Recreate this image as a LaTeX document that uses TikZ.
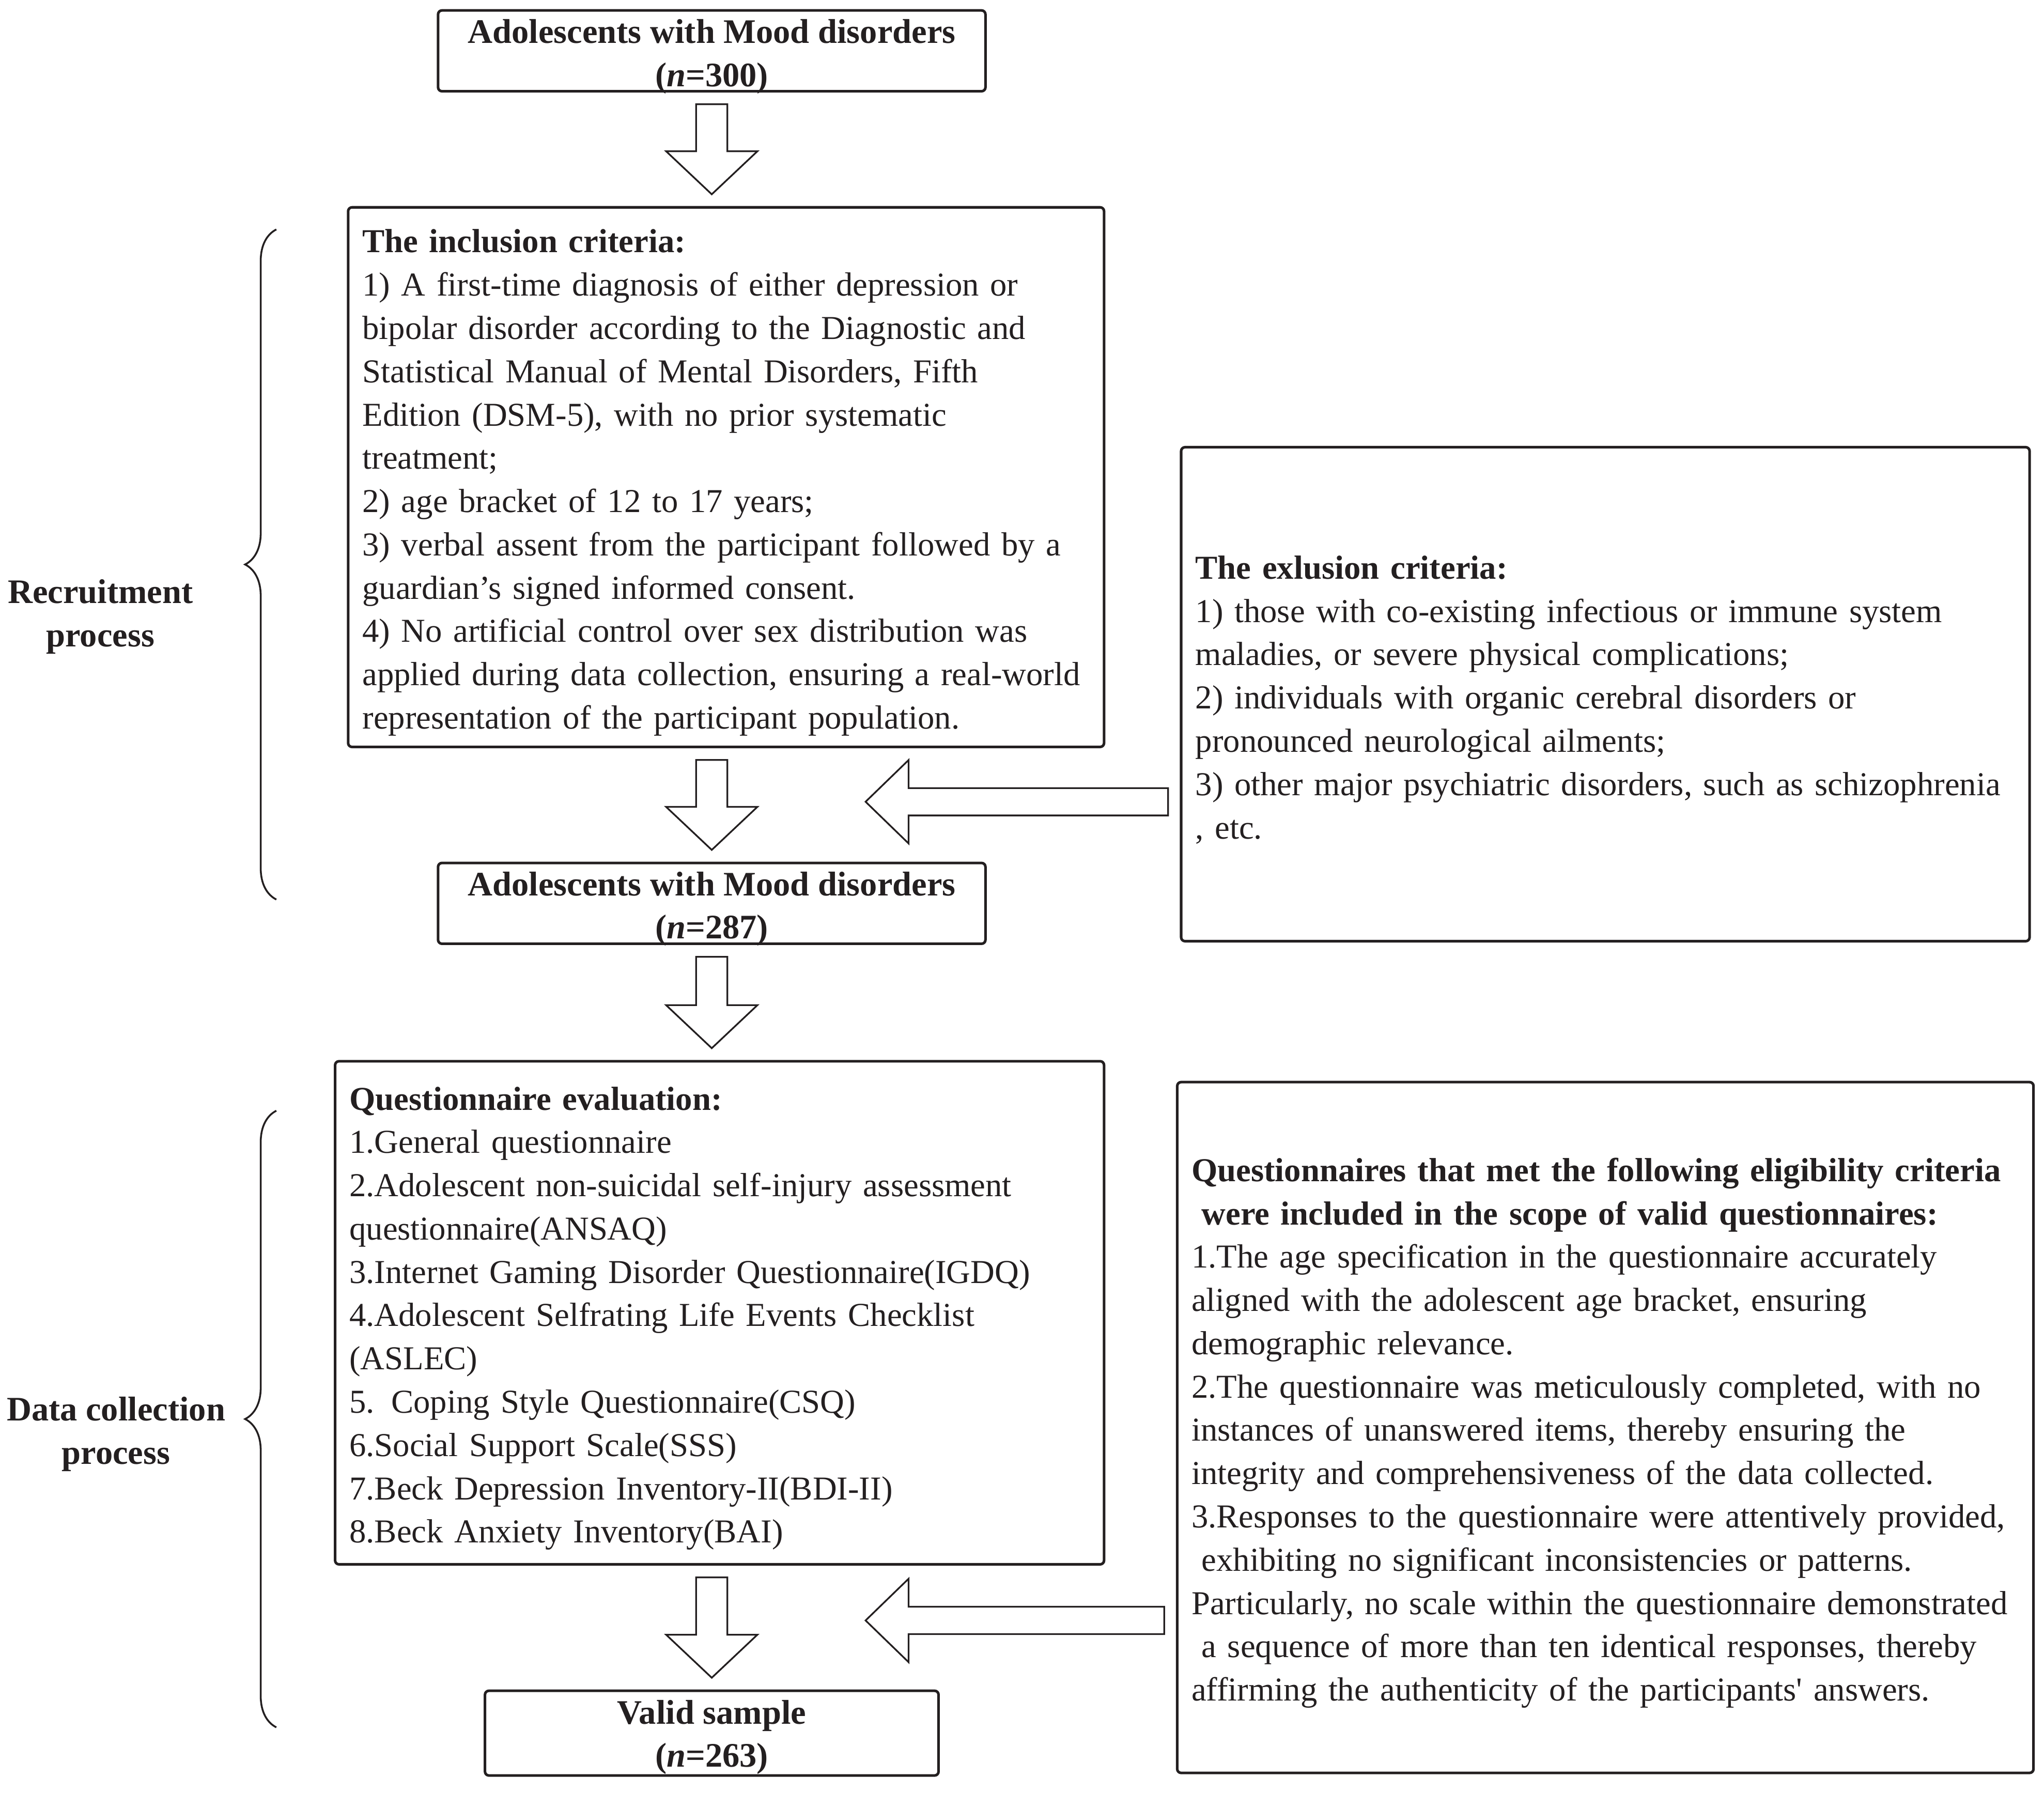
\documentclass[tikz,border=0pt]{standalone}
\usepackage{fontspec}
\setmainfont{Liberation Serif}
\usepackage{xcolor}
\usepackage{tikz}
\usetikzlibrary{calc,positioning,decorations.pathreplacing}
\definecolor{ink}{RGB}{35,31,32}
\newcommand{\nohyph}{\hyphenpenalty=10000\relax\exhyphenpenalty=10000\relax}
\tikzset{
  box/.style={draw=ink, line width=0.04cm, rounded corners=0.06cm, text=ink, inner xsep=0.22cm, inner ysep=0pt, font=\fontsize{15pt}{18.9pt}\selectfont},
  textbox/.style 2 args={box, align=left, text width=#1, minimum height=#2, font=\fontsize{14.6pt}{18.9pt}\selectfont\nohyph},
  countbox/.style 2 args={box, align=center, inner ysep=-3pt, minimum width=#1, minimum height=#2, font=\fontsize{15pt}{18.9pt}\selectfont\bfseries},
  blockarrow/.style={draw=ink, line width=0.026cm, line join=miter, fill=white},
  brace/.style={draw=ink, line width=0.028cm, decorate, decoration={brace, amplitude=0.48cm}},
  side/.style={text=ink, align=center, font=\fontsize{15pt}{18.9pt}\selectfont\bfseries}
}
\newcommand{\downblock}[2]{%
  \draw[blockarrow] ($(#1.south -| axis)+(-12,9)$) -- ($(#1.south -| axis)+(12,9)$) -- ($(#2.north -| axis)+(12,-42)$) -- ($(#2.north -| axis)+(35,-42)$) -- ($(#2.north -| axis)+(0,-9)$) -- ($(#2.north -| axis)+(-35,-42)$) -- ($(#2.north -| axis)+(-12,-42)$) -- cycle;}
\newcommand{\leftblock}[2]{%
  \draw[blockarrow] ($(#1.west |- #2)+(-9,-10.5)$) -- ($(#2)+(33,-10.5)$) -- ($(#2)+(33,-32)$) -- (#2) -- ($(#2)+(33,32)$) -- ($(#2)+(33,10.5)$) -- ($(#1.west |- #2)+(-9,10.5)$) -- cycle;}

\begin{document}
\begin{tikzpicture}[x=0.02cm, y=-0.02cm]
\fill[white] (0,0) rectangle (1568,1375);
\useasboundingbox (0,0) rectangle (1568,1375);
\coordinate (axis) at (546,0);

\node[countbox={8.4cm}{1.24cm}] (start) at (546,39) {\rule{0pt}{15.3pt}Adolescents with Mood disorders\\(\textit{n}=300)};
\node[textbox={11.16cm}{8.28cm}] (incl) at (557,366) {\rule{0pt}{15pt}\textbf{The inclusion criteria:}\\
1) A first-time diagnosis of either depression or\\
bipolar disorder according to the Diagnostic and\\
Statistical Manual of Mental Disorders, Fifth\\
Edition (DSM-5), with no prior systematic\\
treatment;\\
2) age bracket of 12 to 17 years;\\
3) verbal assent from the participant followed by a\\
guardian’s signed informed consent.\\
4) No artificial control over sex distribution was\\
applied during data collection, ensuring a real-world\\
representation of the participant population.};
\node[countbox={8.4cm}{1.24cm}, below=1.74cm of incl, xshift=-0.22cm] (mood) {\rule{0pt}{15.3pt}Adolescents with Mood disorders\\(\textit{n}=287)};
\node[textbox={12.58cm}{7.58cm}] (excl) at (1231.5,532.5) {\rule{0pt}{15pt}\textbf{The exlusion criteria:}\\
1) those with co-existing infectious or immune system\\
maladies, or severe physical complications;\\
2) individuals with organic cerebral disorders or\\
pronounced neurological ailments;\\
3) other major psychiatric disorders, such as schizophrenia\\
, etc.};
\node[textbox={11.36cm}{7.72cm}] (quest) at (552,1007) {\rule{0pt}{15pt}\textbf{Questionnaire evaluation:}\\
1.General questionnaire\\
2.Adolescent non-suicidal self-injury assessment\\
questionnaire(ANSAQ)\\
3.Internet Gaming Disorder Questionnaire(IGDQ)\\
4.Adolescent Selfrating Life Events Checklist\\
(ASLEC)\\
5. Coping Style Questionnaire(CSQ)\\
6.Social Support Scale(SSS)\\
7.Beck Depression Inventory-II(BDI-II)\\
8.Beck Anxiety Inventory(BAI)};
\node[countbox={6.96cm}{1.3cm}, below=1.9cm of quest, xshift=-0.12cm] (valid) {\rule{0pt}{14pt}Valid sample\\(\textit{n}=263)};
\node[textbox={12.7cm}{10.6cm}] (elig) at (1231.5,1095) {\rule{0pt}{15pt}\textbf{Questionnaires that met the following eligibility criteria}\\
\hspace*{0.3em}\textbf{were included in the scope of valid questionnaires:}\\
1.The age specification in the questionnaire accurately\\
aligned with the adolescent age bracket, ensuring\\
demographic relevance.\\
2.The questionnaire was meticulously completed, with no\\
instances of unanswered items, thereby ensuring the\\
integrity and comprehensiveness of the data collected.\\
3.Responses to the questionnaire were attentively provided,\\
\hspace*{0.3em}exhibiting no significant inconsistencies or patterns.\\
Particularly, no scale within the questionnaire demonstrated\\
\hspace*{0.3em}a sequence of more than ten identical responses, thereby\\
affirming the authenticity of the participants\textquotesingle{} answers.};

\node[side] (rec) at (77,473) {Recruitment\\process};
\node[side] (data) at (89,1100) {Data collection\\process};
\draw[brace] (212,690) -- (212,176);
\draw[brace] (212,1325) -- (212,852);

\downblock{start}{incl}
\downblock{incl}{mood}
\downblock{mood}{quest}
\downblock{quest}{valid}
\coordinate (excltip) at (664,615);
\coordinate (eligtip) at (664,1243);
\leftblock{excl}{excltip}
\leftblock{elig}{eligtip}
\end{tikzpicture}
\end{document}
